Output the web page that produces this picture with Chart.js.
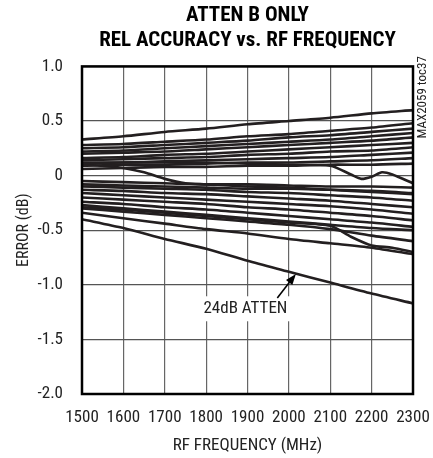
<!DOCTYPE html>
<html>
<head>
<meta charset="utf-8">
<script src="https://cdn.jsdelivr.net/npm/chart.js@4.4.1/dist/chart.umd.min.js"></script>
<style>
  html, body { margin: 0; padding: 0; background: #fff; }
  #wrap { width: 433px; height: 458px; position: relative; }
</style>
</head>
<body>
<div id="wrap"><canvas id="chart" width="433" height="458"></canvas></div>
<script>
const titleLines = ['ATTEN B ONLY', 'REL ACCURACY vs. RF FREQUENCY'];
const xLabel = 'RF FREQUENCY (MHz)';
const yLabel = 'ERROR (dB)';
const noteLabel = '24dB ATTEN';
const tocLabel = 'MAX2059 toc37';

// MHz, shared by most curves
const freqs = [1500, 1600, 1700, 1800, 1900, 2000, 2100, 2200, 2300];

// curves above zero (dB)
const up1 = [0.33, 0.36, 0.40, 0.43, 0.47, 0.50, 0.53, 0.57, 0.60];
const up2 = [0.28, 0.29, 0.31, 0.33, 0.36, 0.38, 0.41, 0.44, 0.48];
const up3 = [0.25, 0.26, 0.28, 0.30, 0.32, 0.35, 0.37, 0.40, 0.43];
const up4 = [0.22, 0.23, 0.25, 0.27, 0.29, 0.31, 0.33, 0.36, 0.39];
const up5 = [0.20, 0.21, 0.22, 0.24, 0.26, 0.28, 0.30, 0.32, 0.35];
const up6 = [0.16, 0.17, 0.19, 0.20, 0.22, 0.24, 0.26, 0.28, 0.30];
const up7 = [0.14, 0.15, 0.16, 0.17, 0.19, 0.20, 0.22, 0.23, 0.26];
const up8 = [0.11, 0.12, 0.13, 0.14, 0.15, 0.16, 0.17, 0.19, 0.21];
const up9 = [0.09, 0.10, 0.10, 0.11, 0.12, 0.12, 0.13, 0.14, 0.16];
const up10 = [0.06, 0.07, 0.08, 0.08, 0.09, 0.09, 0.10, 0.10, 0.11];

// curves below zero (dB)
const low1 = [-0.05, -0.06, -0.07, -0.08, -0.08, -0.09, -0.10, -0.10, -0.11];
const low2 = [-0.08, -0.09, -0.10, -0.11, -0.12, -0.12, -0.13, -0.14, -0.16];
const low3 = [-0.10, -0.11, -0.12, -0.13, -0.15, -0.16, -0.18, -0.20, -0.23];
const low4 = [-0.13, -0.14, -0.16, -0.17, -0.19, -0.21, -0.23, -0.26, -0.29];
const low5 = [-0.16, -0.18, -0.20, -0.22, -0.24, -0.26, -0.28, -0.31, -0.35];
const low6 = [-0.20, -0.22, -0.24, -0.26, -0.29, -0.31, -0.34, -0.37, -0.41];
const low7 = [-0.24, -0.26, -0.29, -0.31, -0.34, -0.37, -0.40, -0.43, -0.47];
const low8 = [-0.27, -0.30, -0.33, -0.36, -0.39, -0.42, -0.45, -0.48, -0.50];
const low9 = [-0.30, -0.33, -0.36, -0.39, -0.42, -0.45, -0.49, -0.55, -0.60];
const low10 = [-0.34, -0.39, -0.44, -0.49, -0.53, -0.58, -0.62, -0.66, -0.72];
const atten24 = [-0.40, -0.48, -0.58, -0.67, -0.78, -0.88, -0.98, -1.08, -1.17];

// curves with their own frequency points
const dropEarlyFreqs = [1500, 1550, 1600, 1650, 1700, 1750, 1800, 1900, 2000, 2100, 2200, 2300];
const dropEarly = [0.10, 0.09, 0.07, 0.03, -0.03, -0.07, -0.08, -0.10, -0.11, -0.13, -0.15, -0.17];
const dropLateFreqs = [1500, 1600, 1700, 1800, 1900, 2000, 2100, 2150, 2175, 2200, 2225, 2250, 2300];
const dropLate = [0.12, 0.12, 0.12, 0.12, 0.11, 0.10, 0.09, 0.01, -0.03, -0.01, 0.03, 0.01, -0.07];
const crossFreqs = [1500, 1600, 1700, 1800, 1900, 2000, 2100, 2150, 2200, 2250, 2300];
const cross = [-0.29, -0.31, -0.34, -0.37, -0.40, -0.43, -0.46, -0.56, -0.64, -0.66, -0.70];

const INK = '#231f20';
const FONT = "'Roboto Condensed', 'Liberation Sans', sans-serif";

function line(xs, ys) {
    return {
        data: xs.map((x, i) => ({ x: x, y: ys[i] })),
        borderColor: INK,
        borderWidth: 2.6,
        pointRadius: 0,
        tension: 0.25,
        fill: false
    };
}

const curves = [up1, up2, up3, up4, up5, up6, up7, up8, up9, up10,
    low1, low2, low3, low4, low5, low6, low7, low8, low9, low10, atten24];

const datasets = curves.map(c => line(freqs, c));
datasets.push(line(dropEarlyFreqs, dropEarly));
datasets.push(line(dropLateFreqs, dropLate));
datasets.push(line(crossFreqs, cross));

const extras = {
    id: 'extras',
    afterDatasetsDraw(chart) {
        const { ctx, chartArea: a, scales: { x, y } } = chart;
        ctx.save();
        // plot frame
        ctx.strokeStyle = '#000';
        ctx.lineWidth = 2.5;
        ctx.strokeRect(a.left, a.top, a.right - a.left, a.bottom - a.top);

        // note box + arrow
        const tx = x.getPixelForValue(1895);
        const ty = y.getPixelForValue(-1.215);
        ctx.font = '17px ' + FONT;
        const w = ctx.measureText(noteLabel).width;
        ctx.fillStyle = '#fff';
        ctx.fillRect(tx - w / 2 - 4, ty - 12, w + 8 + 10, 25);
        ctx.fillStyle = '#222';
        ctx.textAlign = 'center';
        ctx.textBaseline = 'middle';
        ctx.fillText(noteLabel, tx, ty);

        const x0 = x.getPixelForValue(1972), y0 = y.getPixelForValue(-1.12);
        const x1 = x.getPixelForValue(2017), y1 = y.getPixelForValue(-0.90);
        const ang = Math.atan2(y1 - y0, x1 - x0);
        ctx.strokeStyle = '#000';
        ctx.lineWidth = 1.6;
        ctx.beginPath();
        ctx.moveTo(x0, y0);
        ctx.lineTo(x1 - 8 * Math.cos(ang), y1 - 8 * Math.sin(ang));
        ctx.stroke();
        ctx.fillStyle = '#000';
        ctx.beginPath();
        ctx.moveTo(x1, y1);
        ctx.lineTo(x1 - 11 * Math.cos(ang) + 4 * Math.sin(ang), y1 - 11 * Math.sin(ang) - 4 * Math.cos(ang));
        ctx.lineTo(x1 - 11 * Math.cos(ang) - 4 * Math.sin(ang), y1 - 11 * Math.sin(ang) + 4 * Math.cos(ang));
        ctx.closePath();
        ctx.fill();

        // figure tag on the right edge
        ctx.translate(a.right + 10, a.top + 72);
        ctx.rotate(-Math.PI / 2);
        ctx.font = '13px ' + FONT;
        ctx.fillStyle = '#222';
        ctx.textAlign = 'left';
        ctx.fillText(tocLabel, 0, 0);
        ctx.restore();
    }
};

new Chart(document.getElementById('chart'), {
    type: 'line',
    data: { datasets: datasets },
    options: {
        responsive: false,
        animation: false,
        layout: { padding: { left: 0, right: 20, top: 0, bottom: 0 } },
        plugins: {
            legend: { display: false },
            tooltip: { enabled: false },
            title: {
                display: true,
                fullSize: false,
                text: titleLines,
                color: '#000',
                font: { family: FONT, size: 21, weight: 'bold', lineHeight: 1.2 },
                padding: { top: 3, bottom: 13 }
            }
        },
        scales: {
            x: {
                type: 'linear',
                min: 1500,
                max: 2300,
                afterFit: s => { s.height = 64; s.paddingLeft = 0; s.paddingRight = 0; },
                grid: { color: '#666', lineWidth: 1.2, drawTicks: false },
                border: { display: false },
                ticks: {
                    stepSize: 100,
                    autoSkip: false,
                    padding: 14,
                    color: '#222',
                    maxRotation: 0,
                    font: { family: FONT, size: 17 },
                    callback: v => String(v)
                },
                title: {
                    display: true,
                    text: xLabel,
                    color: '#222',
                    font: { family: FONT, size: 17 },
                    padding: { top: 4, bottom: 2 }
                }
            },
            y: {
                min: -2,
                max: 1,
                afterFit: s => { s.width = 82; },
                grid: { color: '#555', lineWidth: 1.2, drawTicks: false },
                border: { display: false },
                ticks: {
                    stepSize: 0.5,
                    padding: 19,
                    color: '#222',
                    font: { family: FONT, size: 17 },
                    callback: v => (v === 0 ? '0' : v.toFixed(1))
                },
                title: {
                    display: true,
                    text: yLabel,
                    color: '#222',
                    font: { family: FONT, size: 16 },
                    padding: { top: 14, bottom: 0 }
                }
            }
        }
    },
    plugins: [extras]
});
</script>
</body>
</html>
